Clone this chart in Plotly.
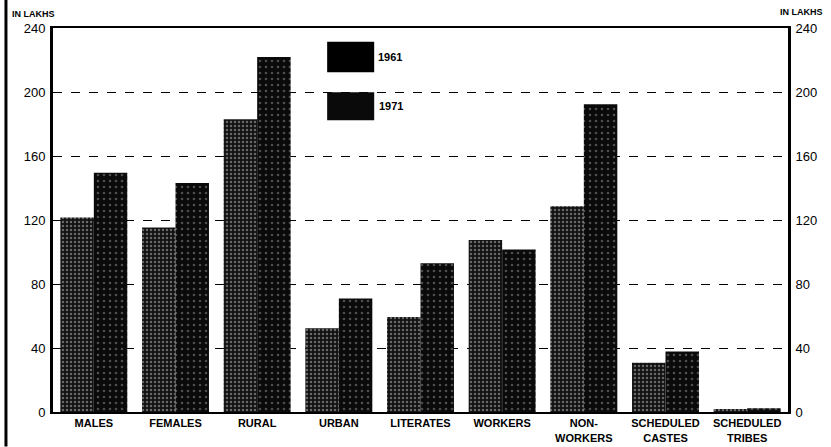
import plotly.graph_objects as go

categories = ["MALES", "FEMALES", "RURAL", "URBAN", "LITERATES", "WORKERS",
              "NON-<br>WORKERS", "SCHEDULED<br>CASTES", "SCHEDULED<br>TRIBES"]
values_1961 = [121.5, 115.3, 183.0, 52.3, 59.3, 107.5, 128.6, 30.8, 1.9]
values_1971 = [149.6, 143.2, 221.8, 71.0, 93.0, 101.6, 192.3, 37.8, 2.3]
tick_vals = [0, 40, 80, 120, 160, 200, 240]
tick_text = ["0", "40", "80", "120", "160", "200", "240"]

FONT = "Liberation Sans"

fig = go.Figure()
fig.add_trace(go.Bar(
    x=categories, y=values_1961, name="1961",
    marker=dict(color="#111111", line=dict(width=0),
                pattern=dict(shape=".", fgcolor="#bdbdbd", bgcolor="#111111",
                             size=4, solidity=0.32)),
))
fig.add_trace(go.Bar(
    x=categories, y=values_1971, name="1971",
    marker=dict(color="#0a0a0a", line=dict(width=0),
                pattern=dict(shape=".", fgcolor="#909090", bgcolor="#0a0a0a",
                             size=6, solidity=0.15)),
))
# invisible trace to drive the right axis
fig.add_trace(go.Scatter(x=[categories[0]], y=[0], yaxis="y2", mode="markers",
                         marker=dict(opacity=0), showlegend=False, hoverinfo="skip"))

fig.update_layout(
    width=831, height=447,
    margin=dict(l=53, r=43, t=28, b=35, autoexpand=False),
    paper_bgcolor="white", plot_bgcolor="white",
    barmode="group", bargap=0.18, bargroupgap=0,
    showlegend=False,
    font=dict(family=FONT, size=12, color="black"),
    xaxis=dict(range=[-0.5, 8.5], showline=True, linecolor="black", linewidth=2,
               mirror=True, ticks="", showgrid=False, automargin=False,
               tickfont=dict(family=FONT, size=11, color="black", weight="bold")),
    yaxis=dict(range=[0, 240], tickvals=tick_vals, ticktext=tick_text,
               showline=True, linecolor="black", linewidth=3, automargin=False,
               showgrid=True, gridcolor="black", gridwidth=1.2, griddash="dash",
               zeroline=False, ticks="", ticklabelstandoff=2,
               tickfont=dict(family=FONT, size=13, color="black")),
    yaxis2=dict(range=[0, 240], tickvals=tick_vals, ticktext=tick_text,
                overlaying="y", side="right", showline=True, linecolor="black",
                linewidth=3, showgrid=False, zeroline=False, ticks="",
                automargin=False, ticklabelstandoff=2,
                tickfont=dict(family=FONT, size=13, color="black")),
)

# legend boxes drawn as shapes
fig.add_shape(type="rect", xref="paper", yref="paper", x0=0.373, x1=0.437,
              y0=0.885, y1=0.964, fillcolor="black", line=dict(width=0))
fig.add_shape(type="rect", xref="paper", yref="paper", x0=0.373, x1=0.437,
              y0=0.760, y1=0.833, fillcolor="#0a0a0a", line=dict(width=0))
fig.add_annotation(xref="paper", yref="paper", x=0.439, y=0.925, text="1961",
                   showarrow=False, xanchor="left", yanchor="middle",
                   font=dict(family=FONT, size=11, color="black", weight="bold"))
fig.add_annotation(xref="paper", yref="paper", x=0.441, y=0.797, text="1971",
                   showarrow=False, xanchor="left", yanchor="middle",
                   font=dict(family=FONT, size=11, color="black", weight="bold"))

# axis unit labels
fig.add_annotation(xref="paper", yref="paper", x=-0.058, y=1.0, text="IN LAKHS",
                   showarrow=False, xanchor="left", yanchor="bottom", yshift=7,
                   font=dict(family=FONT, size=9, color="black", weight="bold"))
fig.add_annotation(xref="paper", yref="paper", x=1.05, y=1.0, text="IN LAKHS",
                   showarrow=False, xanchor="right", yanchor="bottom", yshift=9,
                   font=dict(family=FONT, size=9, color="black", weight="bold"))

# scan border line at left edge
fig.add_shape(type="line", xref="paper", yref="paper", x0=-0.064, x1=-0.064,
              y0=-0.09, y1=1.08, line=dict(color="black", width=3))

fig.write_html("out.html", config={"displayModeBar": False},
               post_script="document.body.style.margin='0';document.body.style.overflow='hidden';")
